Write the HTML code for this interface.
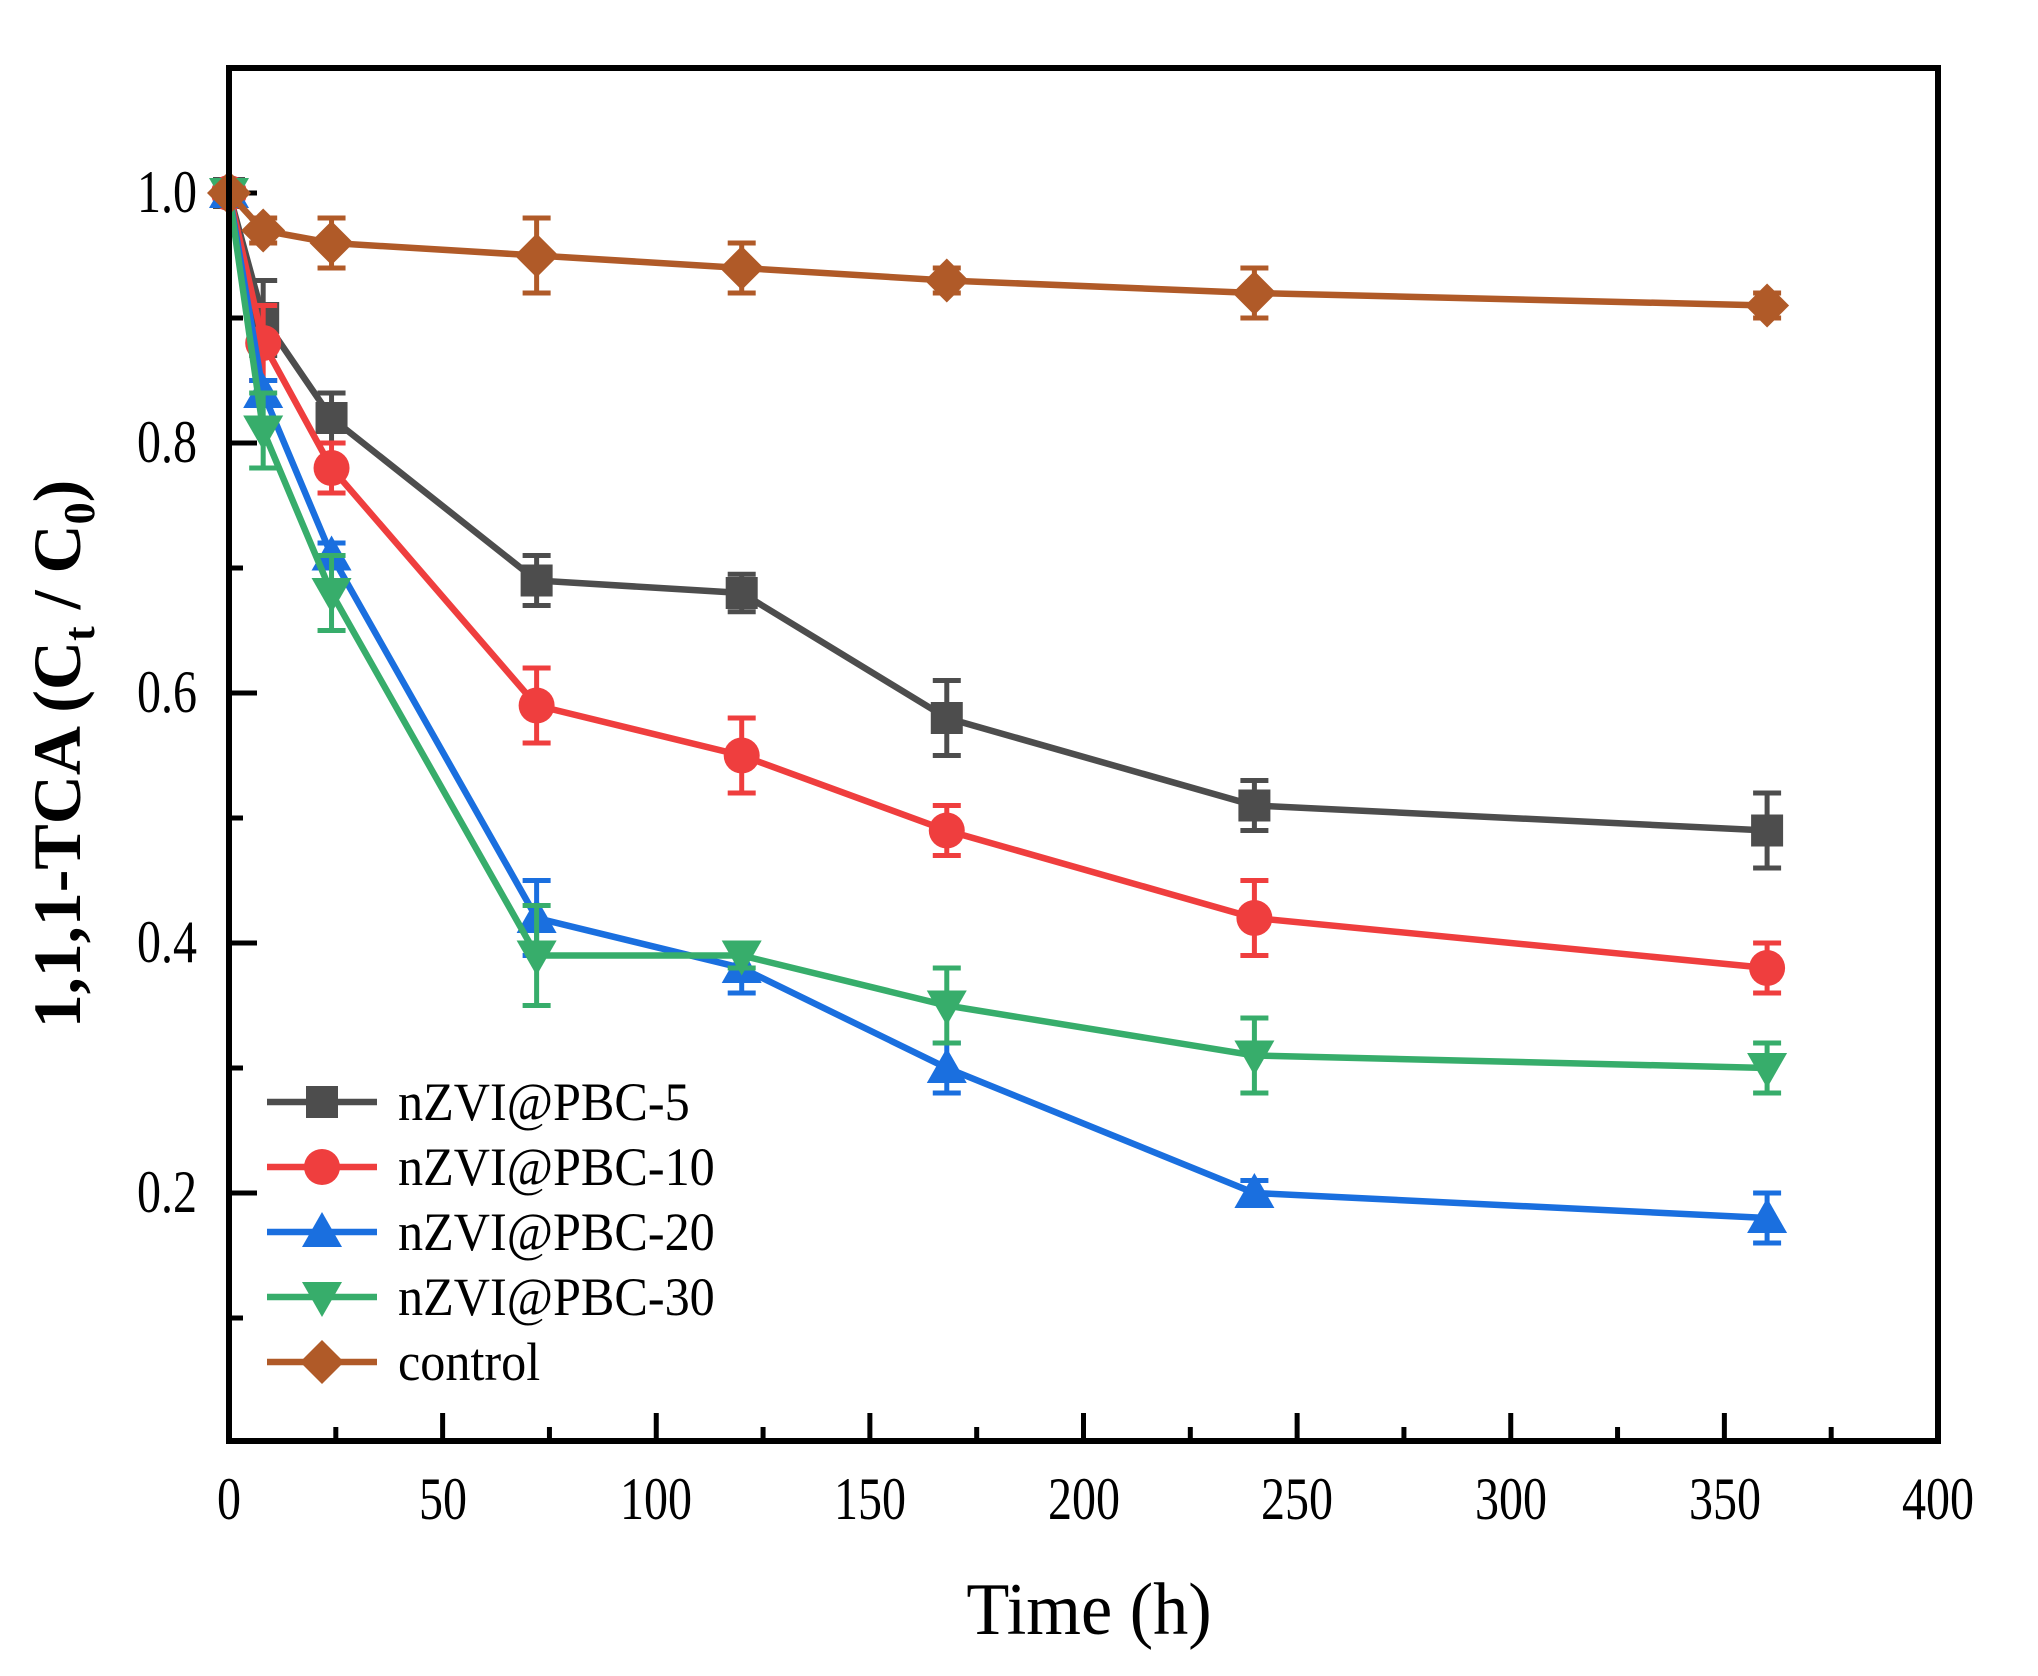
<!DOCTYPE html>
<html><head><meta charset="utf-8"><style>
html,body{margin:0;padding:0;background:#fff}
svg{display:block}
text{font-family:"Liberation Serif",serif;fill:#000}
</style></head><body>
<svg id="s" width="2038" height="1676" viewBox="0 0 2038 1676" xmlns="http://www.w3.org/2000/svg">
<g id="plot"></g>
<rect x="229" y="68" width="1709" height="1373" fill="none" stroke="#000" stroke-width="6"/>
<g font-size="60" text-anchor="end">
<text transform="translate(197,212) scale(0.8,1)">1.0</text>
<text transform="translate(197,462) scale(0.8,1)">0.8</text>
<text transform="translate(197,712) scale(0.8,1)">0.6</text>
<text transform="translate(197,962) scale(0.8,1)">0.4</text>
<text transform="translate(197,1212) scale(0.8,1)">0.2</text>
</g>
<g font-size="60" text-anchor="middle">
<text transform="translate(229,1519) scale(0.8,1)">0</text>
<text transform="translate(443,1519) scale(0.8,1)">50</text>
<text transform="translate(656,1519) scale(0.8,1)">100</text>
<text transform="translate(870,1519) scale(0.8,1)">150</text>
<text transform="translate(1084,1519) scale(0.8,1)">200</text>
<text transform="translate(1297,1519) scale(0.8,1)">250</text>
<text transform="translate(1511,1519) scale(0.8,1)">300</text>
<text transform="translate(1725,1519) scale(0.8,1)">350</text>
<text transform="translate(1938,1519) scale(0.8,1)">400</text>
</g>
<text transform="translate(1089,1634) scale(0.95,1)" font-size="74" text-anchor="middle">Time (h)</text>
<text transform="translate(80,754) rotate(-90)" font-size="68" font-weight="bold" text-anchor="middle">1,1,1-TCA (C<tspan font-size="44" dy="14">t</tspan><tspan dy="-14"> / C</tspan><tspan font-size="44" dy="14">0</tspan><tspan dy="-14">)</tspan></text>
<g font-size="54">
<text transform="translate(398,1120) scale(0.93,1)">nZVI@PBC-5</text>
<text transform="translate(398,1185) scale(0.93,1)">nZVI@PBC-10</text>
<text transform="translate(398,1250) scale(0.93,1)">nZVI@PBC-20</text>
<text transform="translate(398,1315) scale(0.93,1)">nZVI@PBC-30</text>
<text transform="translate(398,1380) scale(0.93,1)">control</text>
</g>
<g id="leg"></g>
</svg>
<script>
const X=t=>229+t*1709/400, Y=v=>1443-v*1250;
const ts=[0,8,24,72,120,168,240,360];
const S=[
{c:"#4d4d4d",m:"sq",v:[1,.90,.82,.69,.68,.58,.51,.49],e:[0,.03,.02,.02,.015,.03,.02,.03]},
{c:"#ef3e3e",m:"ci",v:[1,.88,.78,.59,.55,.49,.42,.38],e:[0,.03,.02,.03,.03,.02,.03,.02]},
{c:"#1a6fdf",m:"up",v:[1,.84,.71,.42,.38,.30,.20,.18],e:[0,.01,.01,.03,.02,.02,.01,.02]},
{c:"#37ad6b",m:"dn",v:[1,.81,.68,.39,.39,.35,.31,.30],e:[0,.03,.03,.04,.01,.03,.03,.02]},
{c:"#b05a28",m:"di",v:[1,.97,.96,.95,.94,.93,.92,.91],e:[0,.01,.02,.03,.02,.01,.02,.01]}];
function mk(m,x,y,c){const r=16;
 if(m=="sq")return `<rect x="${x-r}" y="${y-r}" width="${2*r}" height="${2*r}" fill="${c}"/>`;
 if(m=="ci")return `<circle cx="${x}" cy="${y}" r="${r+2}" fill="${c}"/>`;
 if(m=="up")return `<polygon points="${x},${y-r-4} ${x+r+4},${y+r-1} ${x-r-4},${y+r-1}" fill="${c}"/>`;
 if(m=="dn")return `<polygon points="${x},${y+r+4} ${x+r+4},${y-r+1} ${x-r-4},${y-r+1}" fill="${c}"/>`;
 return `<polygon points="${x},${y-r-6} ${x+r+6},${y} ${x},${y+r+6} ${x-r-6},${y}" fill="${c}"/>`;}
let h="";
for(let i=0;i<=8;i++){const x=X(i*50);h+=`<line x1="${x}" x2="${x}" y1="1441" y2="1413" stroke="#000" stroke-width="5"/>`;
 if(i<8){const xm=X(i*50+25);h+=`<line x1="${xm}" x2="${xm}" y1="1441" y2="1427" stroke="#000" stroke-width="5"/>`;}}
for(let i=1;i<=10;i++){const y=Y(i/10);const L=i%2==0?28:14;h+=`<line x1="229" x2="${229+L}" y1="${y}" y2="${y}" stroke="#000" stroke-width="5"/>`;}
for(const s of S){
 h+=`<polyline points="${ts.map((t,i)=>X(t)+","+Y(s.v[i])).join(" ")}" fill="none" stroke="${s.c}" stroke-width="6.5"/>`;
 ts.forEach((t,i)=>{if(!s.e[i])return;const x=X(t),a=Y(s.v[i]+s.e[i]),b=Y(s.v[i]-s.e[i]);
  h+=`<path d="M${x} ${a}V${b}M${x-14} ${a}H${x+14}M${x-14} ${b}H${x+14}" stroke="${s.c}" stroke-width="5" fill="none"/>`;});
 ts.forEach((t,i)=>{h+=mk(s.m,X(t),Y(s.v[i]),s.c);});
}
document.getElementById("plot").innerHTML=h;
let g="";S.forEach((s,i)=>{const y=1102+65*i;g+=`<line x1="267" x2="377" y1="${y}" y2="${y}" stroke="${s.c}" stroke-width="6.5"/>`+mk(s.m,322,y,s.c);});
document.getElementById("leg").innerHTML=g;
</script>
</body></html>
